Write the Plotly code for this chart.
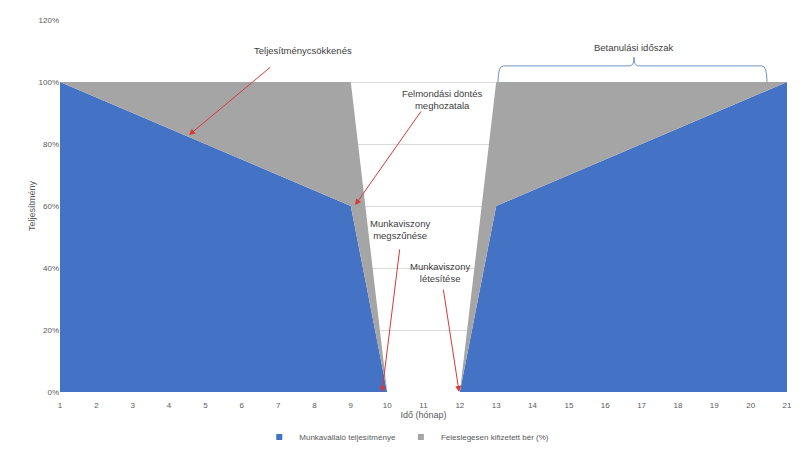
import plotly.graph_objects as go

months = list(range(1, 22))
performance = [1.00, 0.95, 0.90, 0.85, 0.80, 0.75, 0.70, 0.65, 0.60, 0.0, 0.0, 0.0,
               0.60, 0.65, 0.70, 0.75, 0.80, 0.85, 0.90, 0.95, 1.00]
wasted_pay = [0.00, 0.05, 0.10, 0.15, 0.20, 0.25, 0.30, 0.35, 0.40, 0.0, 0.0, 0.0,
              0.40, 0.35, 0.30, 0.25, 0.20, 0.15, 0.10, 0.05, 0.00]
series_names = ["Munkavállaló teljesítménye", "Feleslegesen kifizetett bér (%)"]
series_colors = ["#4472c4", "#a5a5a5"]
y_ticks = [0, 0.2, 0.4, 0.6, 0.8, 1.0, 1.2]

FONT = "Liberation Sans"
TXT = "#404040"
TICK = "#595959"
RED = "#d9383a"

fig = go.Figure()
for vals, name, col in zip([performance, wasted_pay], series_names, series_colors):
    fig.add_trace(go.Scatter(x=months, y=vals, name=name, stackgroup="a",
                             mode="none", fillcolor=col, showlegend=False))
# legend entries with square markers
for name, col in zip(series_names, series_colors):
    fig.add_trace(go.Scatter(x=[None], y=[None], name=name, mode="markers",
                             marker=dict(symbol="square", size=6, color=col)))

# text labels
texts = [
    ("Teljesítménycsökkenés", 7.68, 1.103),
    ("Felmondási döntés<br>meghozatala", 11.51, 0.945),
    ("Munkaviszony<br>megszűnése", 10.35, 0.523),
    ("Munkaviszony<br>létesítése", 11.45, 0.387),
    ("Betanulási időszak", 16.79, 1.11),
]
for t, x, y in texts:
    fig.add_annotation(x=x, y=y, xref="x", yref="y", text=t, showarrow=False,
                       font=dict(family=FONT, size=9.5, color=TXT), align="center")

arrows = [
    (6.83, 1.052, 4.55, 0.829),
    (10.96, 0.91, 9.12, 0.603),
    (10.35, 0.465, 9.86, 0.0),
    (11.54, 0.335, 11.98, 0.0),
]
for ax, ay, x, y in arrows:
    fig.add_annotation(x=x, y=y, ax=ax, ay=ay, xref="x", yref="y", axref="x", ayref="y",
                       text="", showarrow=True, arrowhead=2, arrowsize=1.2,
                       arrowwidth=1, arrowcolor=RED)

# y-axis title
fig.add_annotation(x=(32 - 60) / 727, y=0.5, xref="paper", yref="paper", xanchor="center",
                   text="Teljesítmény", showarrow=False, textangle=-90,
                   font=dict(family=FONT, size=9, color=TICK))

# brace for Betanulási időszak
x0, x1, xm = 13.05, 20.45, 16.79
yb, yh, yt = 1.0, 1.052, 1.08
path = (f"M {x0},{yb} Q {x0},{yh} {x0+0.15},{yh} L {xm-0.12},{yh} "
        f"Q {xm},{yh} {xm},{yt} Q {xm},{yh} {xm+0.12},{yh} "
        f"L {x1-0.15},{yh} Q {x1},{yh} {x1},{yb}")
fig.add_shape(type="path", path=path, xref="x", yref="y",
              line=dict(color="#6f93c4", width=1))

fig.update_layout(
    width=800, height=450,
    margin=dict(l=60, r=13, t=20, b=58, autoexpand=False),
    paper_bgcolor="white", plot_bgcolor="white",
    font=dict(family=FONT, color=TICK),
    showlegend=True,
    legend=dict(orientation="h", x=0.477, xanchor="center", yref="container",
                y=0.029, yanchor="middle", traceorder="normal",
                font=dict(size=8, color=TICK), itemwidth=30),
    xaxis=dict(range=[1, 21], tickvals=months, ticktext=[str(m) for m in months],
               showgrid=False, zeroline=False, showline=False, automargin=False,
               ticks="outside", ticklen=5, tickcolor="rgba(0,0,0,0)",
               tickfont=dict(size=8, color=TICK),
               title=dict(text="Idő (hónap)", font=dict(size=9, color=TICK), standoff=3)),
    yaxis=dict(range=[0, 1.2], tickvals=y_ticks, tickformat=".0%", automargin=False,
               showgrid=True, gridcolor="#d9d9d9", gridwidth=1, zeroline=False,
               tickfont=dict(size=8, color=TICK)),
)

fig.write_html("out.html")
